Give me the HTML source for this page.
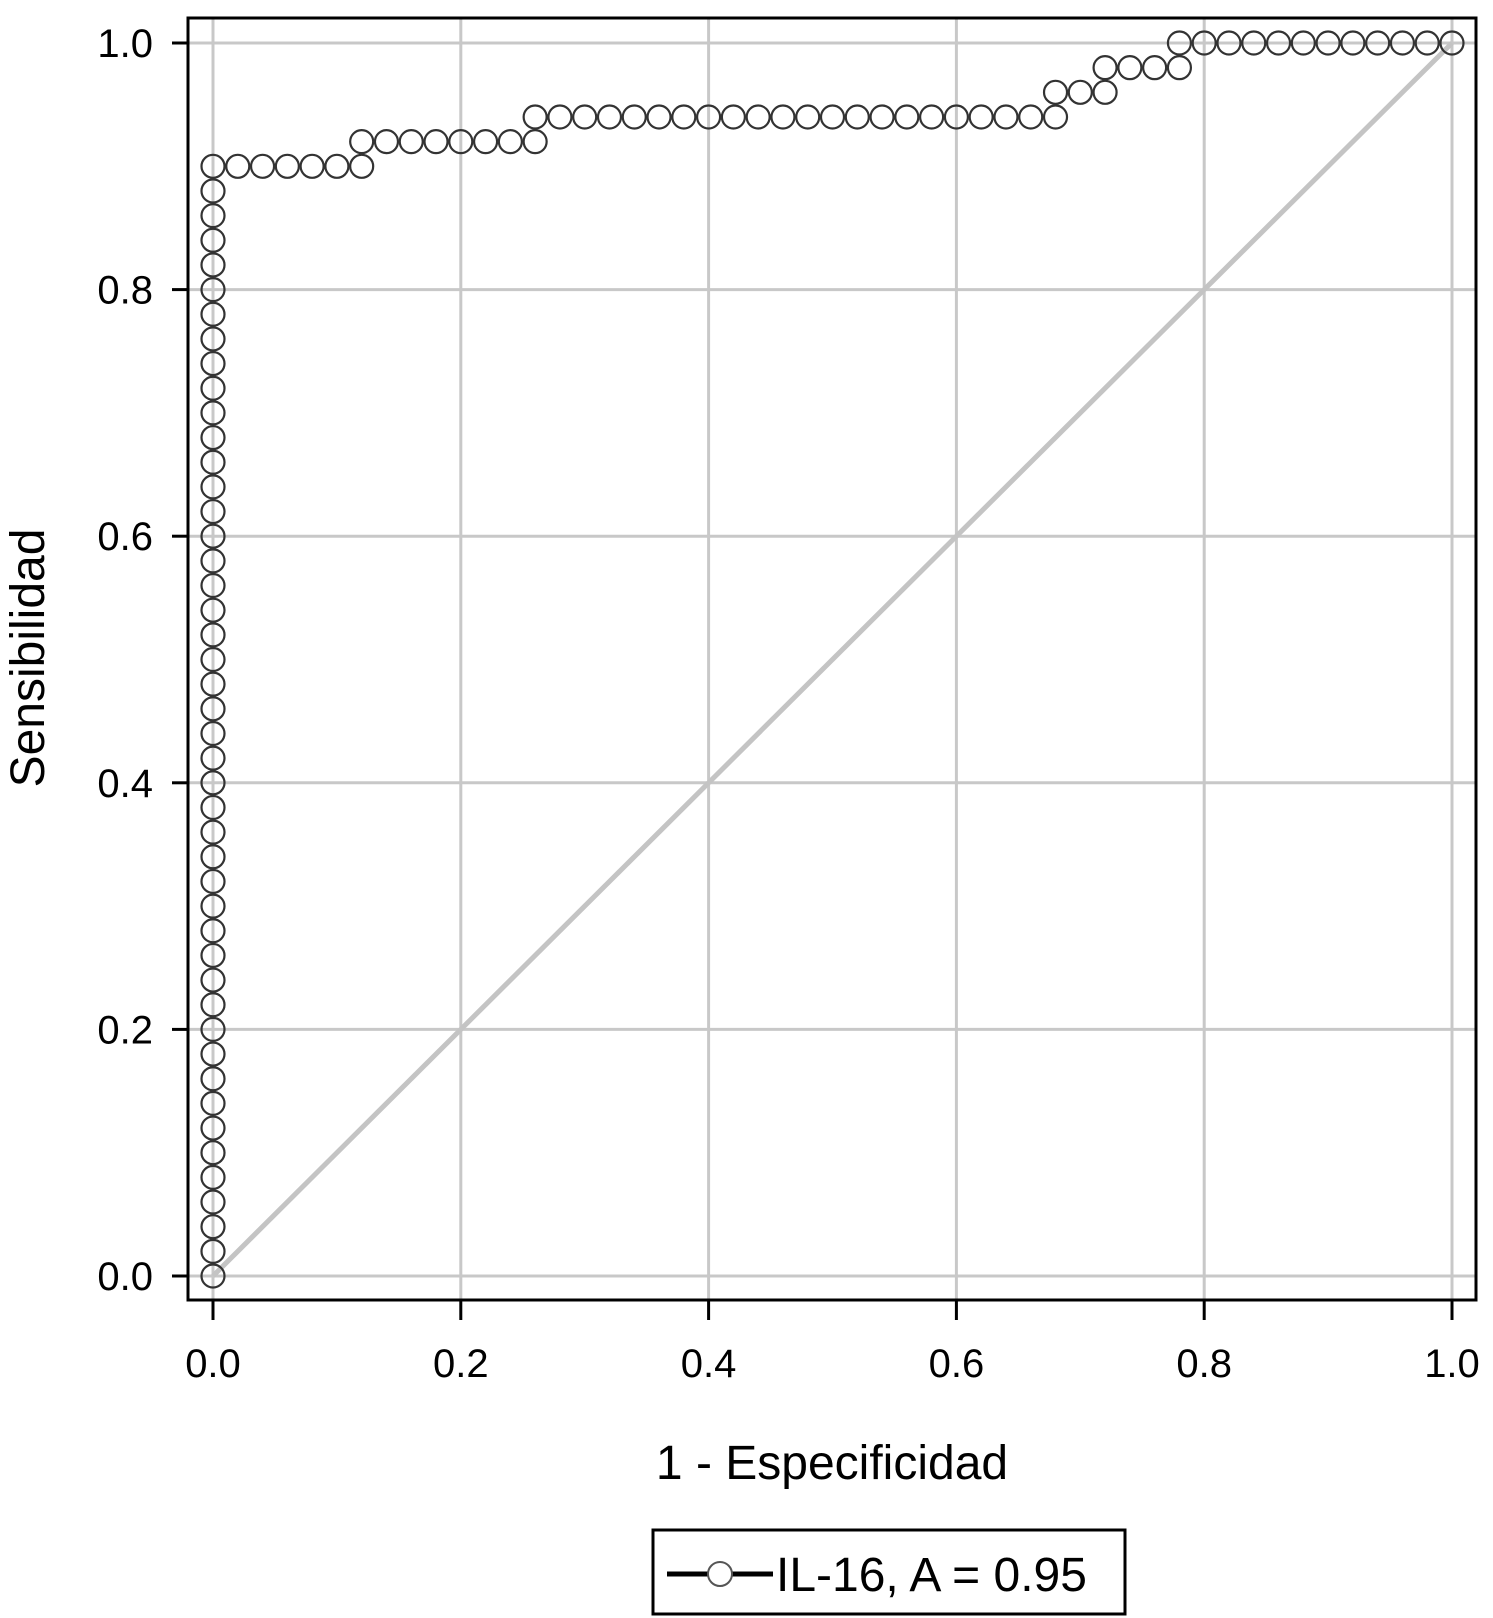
<!DOCTYPE html>
<html><head><meta charset="utf-8"><style>
html,body{margin:0;padding:0;background:#fff}
svg{display:block}
text{font-family:"Liberation Sans",sans-serif;fill:#000}
</style></head><body>
<svg id="chart" width="1493" height="1618" viewBox="0 0 1493 1618" xmlns="http://www.w3.org/2000/svg">
<g id="grid"></g>
<line id="diag" stroke="#c4c4c4" stroke-width="5"/>
<g id="pts"></g>
<rect x="188" y="18" width="1288" height="1282" fill="none" stroke="#000" stroke-width="3"/>
<g id="ticks"></g>
<text x="832" y="1479" font-size="48" text-anchor="middle">1 - Especificidad</text>
<text transform="translate(44,658) rotate(-90)" font-size="48" text-anchor="middle">Sensibilidad</text>
<g>
<rect x="653" y="1530" width="472" height="84" fill="#fff" stroke="#000" stroke-width="3"/>
<line x1="667" y1="1574" x2="773" y2="1574" stroke="#000" stroke-width="5"/>
<circle cx="720" cy="1574" r="12" fill="#fff" stroke="#555" stroke-width="2"/>
<text x="776" y="1591" font-size="48">IL-16, A = 0.95</text>
</g>
</svg>
<script>
const xTicks=[0,0.2,0.4,0.6,0.8,1.0];
const yTicks=[0,0.2,0.4,0.6,0.8,1.0];
const tickLabels=["0.0","0.2","0.4","0.6","0.8","1.0"];
const fpr=[0,0,0,0,0,0,0,0,0,0,0,0,0,0,0,0,0,0,0,0,0,0,0,0,0,0,0,0,0,0,0,0,0,0,0,0,0,0,0,0,0,0,0,0,0,0,
0.02,0.04,0.06,0.08,0.10,0.12,
0.12,0.14,0.16,0.18,0.20,0.22,0.24,0.26,
0.26,0.28,0.30,0.32,0.34,0.36,0.38,0.40,0.42,0.44,0.46,0.48,0.50,0.52,0.54,0.56,0.58,0.60,0.62,0.64,0.66,0.68,
0.68,0.70,0.72,0.72,0.74,0.76,0.78,0.78,0.80,0.82,0.84,0.86,0.88,0.90,0.92,0.94,0.96,0.98,1.00];
const tpr=[0,0.02,0.04,0.06,0.08,0.10,0.12,0.14,0.16,0.18,0.20,0.22,0.24,0.26,0.28,0.30,0.32,0.34,0.36,0.38,0.40,0.42,0.44,0.46,0.48,0.50,0.52,0.54,0.56,0.58,0.60,0.62,0.64,0.66,0.68,0.70,0.72,0.74,0.76,0.78,0.80,0.82,0.84,0.86,0.88,0.90,
0.90,0.90,0.90,0.90,0.90,0.90,
0.92,0.92,0.92,0.92,0.92,0.92,0.92,0.92,
0.94,0.94,0.94,0.94,0.94,0.94,0.94,0.94,0.94,0.94,0.94,0.94,0.94,0.94,0.94,0.94,0.94,0.94,0.94,0.94,0.94,0.94,
0.96,0.96,0.96,0.98,0.98,0.98,0.98,1.00,1.00,1.00,1.00,1.00,1.00,1.00,1.00,1.00,1.00,1.00,1.00];
const NS="http://www.w3.org/2000/svg";
const X=v=>213+v*1239, Y=v=>1276-v*1233;
function mk(tag,attrs,parent){const e=document.createElementNS(NS,tag);for(const k in attrs)e.setAttribute(k,attrs[k]);parent.appendChild(e);return e;}
const grid=document.getElementById('grid'),ticks=document.getElementById('ticks'),pts=document.getElementById('pts');
xTicks.forEach((v,i)=>{
  const g=mk('line',{x1:X(v),x2:X(v),y1:18,y2:1300,stroke:'#c8c8c8','stroke-width':3},grid);
  
  
  const t=mk('line',{x1:X(v),x2:X(v),y1:1300,y2:1320,stroke:'#000','stroke-width':3},ticks);
  
  
  const l=mk('text',{x:X(v),y:1377,'font-size':40,'text-anchor':'middle'},ticks);
  l.textContent=tickLabels[i];
  
  
});
yTicks.forEach((v,i)=>{
  const g=mk('line',{x1:188,x2:1476,y1:Y(v),y2:Y(v),stroke:'#c8c8c8','stroke-width':3},grid);
  
  
  const t=mk('line',{x1:172,x2:188,y1:Y(v),y2:Y(v),stroke:'#000','stroke-width':3},ticks);
  
  
  const l=mk('text',{x:153,y:Y(v)+14,'font-size':40,'text-anchor':'end'},ticks);
  l.textContent=tickLabels[i];
  
  
});
const d=document.getElementById('diag');
d.setAttribute('x1',X(0));d.setAttribute('y1',Y(0));d.setAttribute('x2',X(1));d.setAttribute('y2',Y(1));
fpr.forEach((v,i)=>{
  const c=mk('circle',{cx:X(v),cy:Y(tpr[i]),r:11.5,fill:'none',stroke:'#333','stroke-width':2.2},pts);
  
  
});
</script>
</body></html>
